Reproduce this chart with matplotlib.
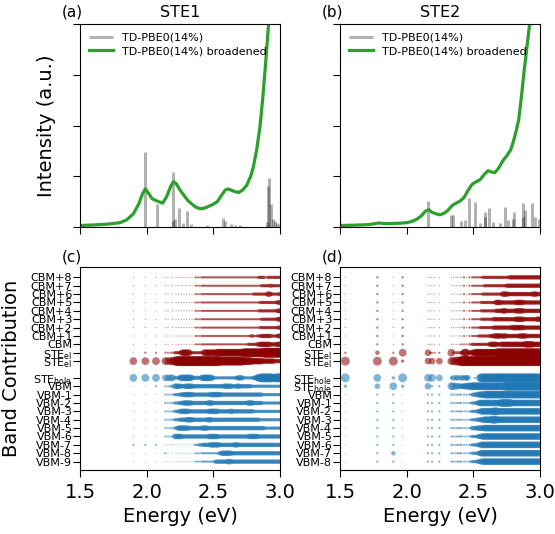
import matplotlib
matplotlib.use('Agg')
import matplotlib.pyplot as plt

# ---------------- spectra (top panels) ----------------
# STE1: broadened curve
e_curve_1 = [1.50, 1.60, 1.70, 1.80, 1.85, 1.90, 1.94, 1.97, 1.99, 2.01,
             2.04, 2.07, 2.10, 2.12, 2.15, 2.18, 2.20, 2.22, 2.25, 2.28,
             2.31, 2.34, 2.37, 2.40, 2.43, 2.46, 2.50, 2.53, 2.56, 2.59,
             2.61, 2.63, 2.66, 2.69, 2.72, 2.75, 2.78, 2.80, 2.825, 2.85,
             2.87, 2.89, 2.91, 2.93]
i_curve_1 = [0.03, 0.04, 0.055, 0.085, 0.14, 0.26, 0.45, 0.66, 0.75, 0.68,
             0.56, 0.52, 0.49, 0.47, 0.60, 0.80, 0.89, 0.86, 0.73, 0.62,
             0.52, 0.45, 0.39, 0.36, 0.37, 0.40, 0.45, 0.50, 0.62, 0.73,
             0.75, 0.73, 0.70, 0.68, 0.73, 0.82, 1.00, 1.18, 1.52, 1.98,
             2.52, 3.16, 3.85, 4.50]
# STE1: stick spectrum
e_stick_1 = [1.985, 2.075, 2.195, 2.20, 2.21, 2.245, 2.27, 2.305, 2.33, 2.45,
             2.575, 2.59, 2.63, 2.66, 2.70, 2.90, 2.91, 2.915, 2.93, 2.945,
             2.96, 2.98, 3.00]
f_stick_1 = [1.47, 0.45, 0.12, 1.08, 0.15, 0.37, 0.08, 0.31, 0.05, 0.03,
             0.18, 0.12, 0.05, 0.04, 0.03, 0.10, 0.80, 0.96, 0.45, 0.15,
             0.12, 0.08, 0.06]

# STE2
e_curve_2 = [1.50, 1.60, 1.70, 1.75, 1.79, 1.84, 1.90, 1.95, 2.00, 2.04,
             2.08, 2.11, 2.14, 2.165, 2.19, 2.22, 2.25, 2.28, 2.31, 2.34,
             2.37, 2.40, 2.43, 2.46, 2.49, 2.52, 2.55, 2.58, 2.61, 2.63,
             2.66, 2.69, 2.72, 2.75, 2.78, 2.80, 2.82, 2.84, 2.86, 2.88,
             2.90, 2.92, 2.94]
i_curve_2 = [0.03, 0.035, 0.045, 0.06, 0.08, 0.065, 0.07, 0.075, 0.085, 0.11,
             0.16, 0.22, 0.31, 0.34, 0.29, 0.26, 0.24, 0.27, 0.33, 0.42,
             0.47, 0.51, 0.58, 0.72, 0.84, 0.89, 0.93, 1.03, 1.11, 1.09,
             1.07, 1.16, 1.30, 1.40, 1.52, 1.68, 1.88, 2.11, 2.55, 3.05,
             3.50, 3.95, 4.50]
e_stick_2 = [2.1625, 2.33, 2.35, 2.41, 2.44, 2.47, 2.51, 2.55, 2.585, 2.59,
             2.62, 2.65, 2.70, 2.74, 2.76, 2.80, 2.805, 2.87, 2.875, 2.89,
             2.94, 2.96, 2.99]
f_stick_2 = [0.52, 0.24, 0.24, 0.12, 0.14, 0.57, 0.50, 0.08, 0.30, 0.20,
             0.37, 0.10, 0.07, 0.40, 0.14, 0.15, 0.30, 0.47, 0.20, 0.34,
             0.47, 0.20, 0.15]

# ---------------- band contributions (bottom panels) ----------------
STE_EL = r'STE$_{\rm el}$'
STE_HOLE = r'STE$_{\rm hole}$'

# STE1: excitation energies (one column per excitation)
e_exc_1 = [1.90, 1.99, 2.07, 2.14, 2.16, 2.18, 2.195,
           2.21, 2.22, 2.23, 2.24, 2.25, 2.26, 2.27, 2.28, 2.29, 2.30,
           2.31, 2.32, 2.33, 2.34, 2.35, 2.36, 2.37, 2.38, 2.39, 2.40,
           2.41, 2.42, 2.43, 2.44, 2.45, 2.46, 2.47, 2.48, 2.49, 2.50,
           2.51, 2.52, 2.53, 2.54, 2.55, 2.56, 2.57, 2.58, 2.59, 2.60,
           2.61, 2.62, 2.63, 2.64, 2.65, 2.66, 2.67, 2.68, 2.69, 2.70,
           2.71, 2.72, 2.73, 2.74, 2.75, 2.76, 2.77, 2.78, 2.79, 2.80,
           2.81, 2.82, 2.83, 2.84, 2.85, 2.86, 2.87, 2.88, 2.89, 2.90,
           2.91, 2.92, 2.93, 2.94, 2.95, 2.96, 2.97, 2.98, 2.99, 3.00]
bands_1 = ['CBM+8', 'CBM+7', 'CBM+6', 'CBM+5', 'CBM+4', 'CBM+3', 'CBM+2',
           'CBM+1', 'CBM', STE_EL, STE_EL,
           STE_HOLE, 'VBM', 'VBM-1', 'VBM-2', 'VBM-3', 'VBM-4', 'VBM-5',
           'VBM-6', 'VBM-7', 'VBM-8', 'VBM-9']
# weight of each band in each excitation, 0-9 (one digit per column)
weights_1 = [
    "1111101 0101010101 0101012121 2222222222 2222222222 2222222222 2222222222 2223333322 3333333333",
    "1111101 0101010101 0101012121 2222222222 2222222222 2222222222 2222222222 2222233333 3343333333",
    "1111101 0101010101 0101012121 2222222222 2222222222 2222222222 2222222223 3333333333 5543333334",
    "1111101 0101010101 0101012121 2222222222 2222222222 2222222222 2222222222 2222333333 3333333445",
    "1111101 0101010101 0101012121 2222222222 2222222222 2222222222 2222222222 2223333333 3333333445",
    "1111101 0101010101 0101012121 2222222222 2222222222 2222222222 2222222222 2222233333 3333333445",
    "1111101 0101010101 0101012121 2222222222 2222222222 2222222222 2222222222 2222333333 3333333344",
    "1111101 0101010101 0101012121 2222222222 2222222222 2222222222 2222222333 2233344444 4443333445",
    "1111101 0101010101 0101012121 2222222222 2222222222 2222222222 2222233333 3344555555 5544444555",
    "1222222 3333356666 6633333333 3366666666 6677777777 7777777777 7788888888 8888888999 9999999999",
    "7777777 8899999999 9999999999 9999999999 9999888888 8888888888 8877777766 6666665555 5555544444",
    "7776666 3334566666 6665434433 5666666654 3333333333 3333334455 5433333334 4567788888 8888778888",
    "1122233 5555544455 5555444444 4444444444 4444444555 5554444554 4444444433 3333333333 3333333333",
    "1112222 3333444555 5555444444 4444444555 5555544444 4444444444 4444444444 4444443333 3333333333",
    "1112222 3333444555 5554444444 4444455554 4444444444 4444444444 4444455554 4444443333 3333333333",
    "1112222 3334455555 5444444444 4444445555 5554444444 4455444444 4444444444 3333333333 3333333333",
    "1112222 3333444445 5555444444 4444455544 4444444444 4444444444 4444444444 4444333333 3333333333",
    "1112222 3345555555 5444444444 4555544444 4444444444 4444444444 4444444444 4444444433 3333333333",
    "1112222 5555554444 4444444444 4444445555 5554444444 4444444444 4444445555 5554444444 4444444444",
    "2221111 1010101010 1010122233 3444444555 5555444444 4444455544 4444444444 4444444444 4444444444",
    "1112101 0101010101 0101012121 2222222222 2223445555 5554444444 4444444444 4444444444 4444444444",
    "1111101 0101010101 0101012121 2222222222 3444444444 5554444444 4444444444 4444444444 4444444444",
]

# STE2
e_exc_2 = [1.54, 1.78, 1.90, 1.97,
           2.16, 2.175, 2.19, 2.21, 2.245,
           2.335, 2.35, 2.37, 2.385, 2.40,
           2.41, 2.42, 2.43, 2.44, 2.45, 2.46, 2.47, 2.48, 2.49, 2.50,
           2.51, 2.52, 2.53, 2.54, 2.55, 2.56, 2.57, 2.58, 2.59, 2.60,
           2.61, 2.62, 2.63, 2.64, 2.65, 2.66, 2.67, 2.68, 2.69, 2.70,
           2.71, 2.72, 2.73, 2.74, 2.75, 2.76, 2.77, 2.78, 2.79, 2.80,
           2.81, 2.82, 2.83, 2.84, 2.85, 2.86, 2.87, 2.88, 2.89, 2.90,
           2.91, 2.92, 2.93, 2.94, 2.95, 2.96, 2.97, 2.98, 2.99, 3.00]
bands_2 = ['CBM+8', 'CBM+7', 'CBM+6', 'CBM+5', 'CBM+4', 'CBM+3', 'CBM+2',
           'CBM+1', 'CBM', STE_EL, STE_EL,
           STE_HOLE, STE_HOLE, 'VBM', 'VBM-1', 'VBM-2', 'VBM-3', 'VBM-4',
           'VBM-5', 'VBM-6', 'VBM-7', 'VBM-8']
weights_2 = [
    "1212 11111 11111 1020102022 2222223333 3333333333 3333334444 4444444444 4444444444",
    "1212 11111 11111 1020102022 2222222333 3333333333 3333444444 4444444444 4444444444",
    "1212 11111 11111 1020102022 2222223333 3333333333 3555544444 4444444444 4444555444",
    "1212 11111 11111 1020102022 2222233333 3333335555 4444444444 4555555444 4444444444",
    "1212 11111 11111 1020102022 2222233333 3333334444 4555444444 4555555444 4444444444",
    "1212 11111 11111 1020102022 2222233333 3333444444 4444444444 4555555444 4444444555",
    "1212 11111 11111 1020102022 2222333333 3333444444 4444444455 5555555444 4444444444",
    "1212 11111 11111 1020102022 2223333333 3344455555 4555444444 4444555554 4444444444",
    "1212 11111 11111 2020202233 3333333333 3455555444 5555555555 5555555566 6666555555",
    "2427 62222 73333 3377733556 6777777777 7777777888 8888888888 8888888888 8888888888",
    "8883 60606 77888 9999999999 9999999999 9999999999 9999999999 9999999999 9999999999",
    "8738 70706 35550 5505550000 2000788888 8888888888 8888888888 8888888888 8888888888",
    "3573 60202 77665 5556666777 7777777777 7777777777 7778888888 8888888888 8888888888",
    "1221 20202 22222 2020202234 4455666677 7777777777 7777777777 7777777777 7777777777",
    "1221 20202 22222 2020202233 3445666666 6666666666 7777777766 6666666666 6666666666",
    "1221 20202 22222 2020202233 3344566666 6666777766 6666666666 6666666666 6666666666",
    "1221 20202 22222 2020202233 3344455666 6667777666 6666666666 6666666666 6666666666",
    "1221 20202 22222 2020202244 4455555666 6666666666 6666666666 6666666666 6666666666",
    "1221 20202 22222 2020202233 3344556666 6666666666 6666666666 6666666666 6666666666",
    "1221 20202 22222 2020202233 3344566666 6666666666 6666666666 6666666666 6666666666",
    "1241 20202 22222 2020202233 3344566666 6666666666 6666666666 6666666666 6666666666",
    "1221 20202 22222 2020202233 3344556666 6666666666 6666666666 6666666666 6666666666",
]

N_EL = 11  # first 11 rows are electron bands (CBM+8 ... STE_el)


#%%
def draw_spectrum(ax, e_stick, f_stick, e_curve, i_curve, title, letter):
    ax.vlines(e_stick, 0, f_stick, colors='k', alpha=0.3, lw=2.2,
              label='TD-PBE0(14%)')
    ax.plot(e_curve, i_curve, color='#2ca02c', lw=2.3,
            label='TD-PBE0(14%) broadened')
    ax.set_xlim(1.5, 3.0)
    ax.set_ylim(0, 4)
    ax.set_xticks([1.5, 2.0, 2.5, 3.0])
    ax.set_yticks([0, 1, 2, 3, 4])
    ax.tick_params(labelbottom=False, labelleft=False, length=5)
    ax.set_title(title, fontsize=11.5, pad=5)
    ax.text(-0.09, 1.035, letter, transform=ax.transAxes, fontsize=11,
            ha='left', va='baseline')
    ax.legend(loc='upper left', frameon=False, fontsize=8,
              handlelength=2.2, borderaxespad=0.4, labelspacing=0.3)


def draw_bands(ax, energies, labels, weights, letter):
    n = len(labels)
    ypos = []
    for i in range(n):
        # electron rows on top, one empty slot, then hole rows
        y = (n - i) if i < N_EL else (n - 1 - i)
        ypos.append(y)
        code = "".join(weights[i].split())
        assert len(code) == len(energies), (i, len(code), len(energies))
        xs, ss = [], []
        for e, c in zip(energies, code):
            d = int(c)
            if d > 0:
                xs.append(e)
                ss.append((0.8 * d) ** 2)
        color = 'darkred' if i < N_EL else '#1f77b4'
        ax.scatter(xs, [y] * len(xs), s=ss, color=color, alpha=0.55,
                   linewidths=0)
    ax.set_yticks(ypos)
    ax.set_yticklabels(labels, fontsize=8)
    ax.set_xlim(1.5, 3.0)
    ax.set_ylim(-1, n + 1.2)
    ax.set_xticks([1.5, 2.0, 2.5, 3.0])
    ax.tick_params(axis='x', labelsize=14, length=5, pad=4)
    ax.tick_params(axis='y', length=5, pad=0.5)
    ax.set_xlabel('Energy (eV)', fontsize=14)
    ax.text(-0.09, 1.028, letter, transform=ax.transAxes, fontsize=11,
            ha='left', va='baseline')


#%%
fig = plt.figure(figsize=(5.55, 5.34), dpi=100)
W, H = 555.0, 534.0
ax_a = fig.add_axes([80 / W, 1 - 227 / H, 200 / W, 203 / H])
ax_b = fig.add_axes([340 / W, 1 - 227 / H, 200 / W, 203 / H])
ax_c = fig.add_axes([80 / W, 1 - 470 / H, 200 / W, 202.7 / H])
ax_d = fig.add_axes([340 / W, 1 - 470 / H, 200 / W, 202.7 / H])

draw_spectrum(ax_a, e_stick_1, f_stick_1, e_curve_1, i_curve_1, 'STE1', '(a)')
draw_spectrum(ax_b, e_stick_2, f_stick_2, e_curve_2, i_curve_2, 'STE2', '(b)')
draw_bands(ax_c, e_exc_1, bands_1, weights_1, '(c)')
draw_bands(ax_d, e_exc_2, bands_2, weights_2, '(d)')

ax_a.set_ylabel('Intensity (a.u.)', fontsize=14)
ax_a.yaxis.set_label_coords(-0.12, 0.5)
ax_c.set_ylabel('Band Contribution', fontsize=14)
ax_c.yaxis.set_label_coords(-0.293, 0.5)

fig.savefig('out.png', dpi=100)
